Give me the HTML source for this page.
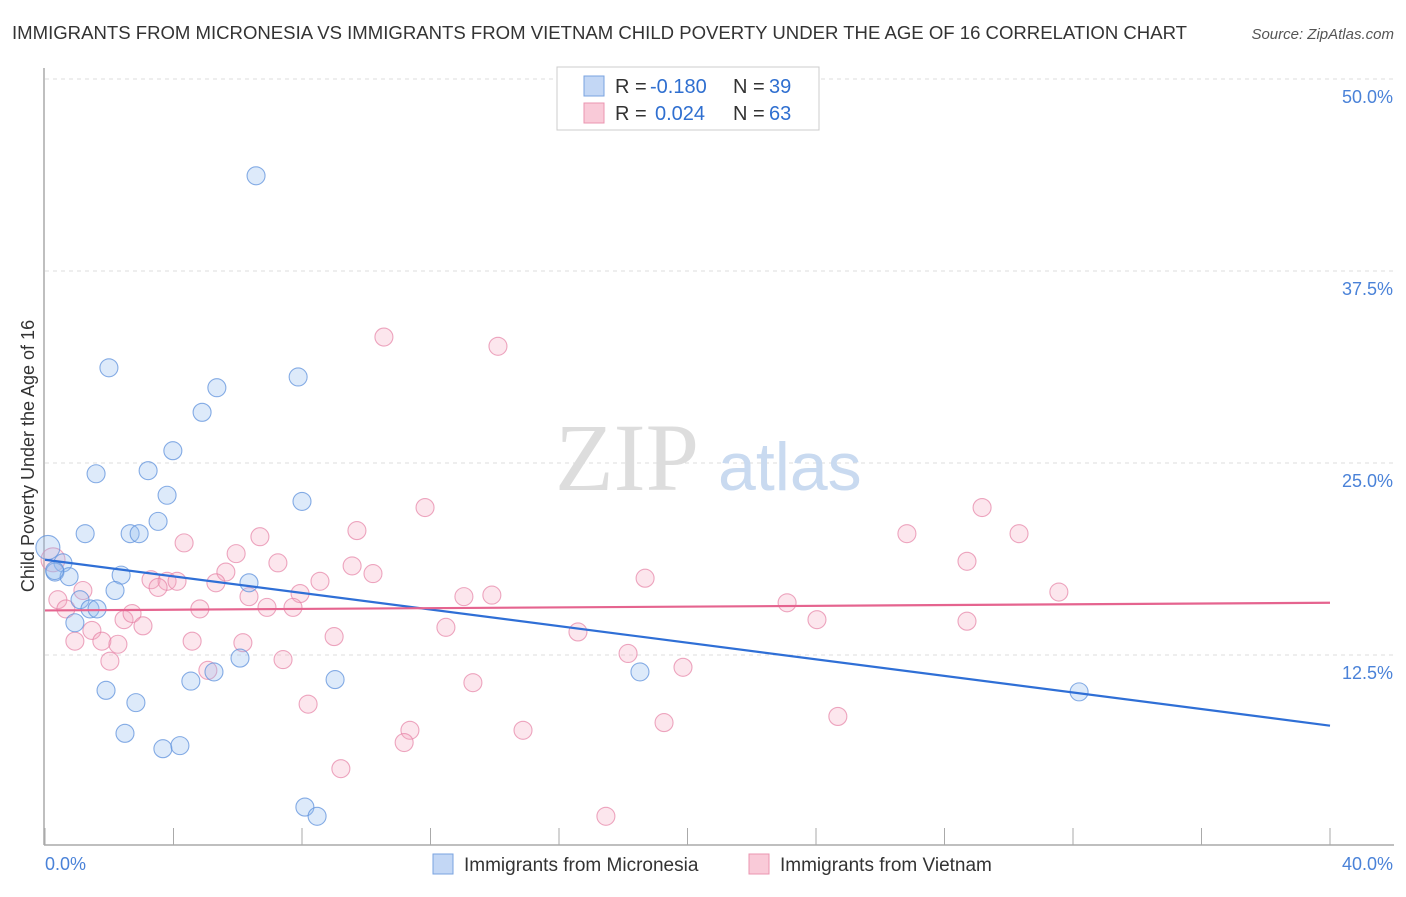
<!DOCTYPE html>
<html><head><meta charset="utf-8"><style>
body{margin:0;background:#fff;font-family:"Liberation Sans",sans-serif}
svg text{font-family:"Liberation Sans",sans-serif}
</style></head><body>
<svg id="c" width="1406" height="892">
<text x="12" y="39" font-size="18" fill="#333" textLength="1175" lengthAdjust="spacingAndGlyphs">IMMIGRANTS FROM MICRONESIA VS IMMIGRANTS FROM VIETNAM CHILD POVERTY UNDER THE AGE OF 16 CORRELATION CHART</text>
<text x="1394" y="39" font-size="15" fill="#555" font-style="italic" text-anchor="end">Source: ZipAtlas.com</text>
<text x="0" y="0" transform="translate(34,456) rotate(-90)" font-size="18" fill="#333" text-anchor="middle">Child Poverty Under the Age of 16</text>
<g id="grid"></g>
<text x="555" y="490" font-size="96" fill="#ddd" style="font-family:'Liberation Serif',serif">ZIP</text>
<text x="718" y="490" font-size="68" fill="#c9daf0">atlas</text>
<g id="pts"></g>
<g id="lines"></g>
<g>
<rect x="557" y="67" width="262" height="63" fill="#fff" stroke="#ccc"/>
<rect x="584" y="76" width="20" height="20" fill="#c3d7f5" stroke="#7aa3e0"/>
<rect x="584" y="103" width="20" height="20" fill="#f9cad8" stroke="#eb95b0"/>
<text x="615" y="93" font-size="20" fill="#333">R =</text>
<text x="650" y="93" font-size="20" fill="#2f6fd0">-0.180</text>
<text x="733" y="93" font-size="20" fill="#333">N =</text>
<text x="769" y="93" font-size="20" fill="#2f6fd0">39</text>
<text x="615" y="120" font-size="20" fill="#333">R =</text>
<text x="655" y="120" font-size="20" fill="#2f6fd0">0.024</text>
<text x="733" y="120" font-size="20" fill="#333">N =</text>
<text x="769" y="120" font-size="20" fill="#2f6fd0">63</text>
</g>
<g>
<rect x="433" y="854" width="20" height="20" fill="#c3d7f5" stroke="#7aa3e0"/>
<text x="464" y="871" font-size="19" fill="#333">Immigrants from Micronesia</text>
<rect x="749" y="854" width="20" height="20" fill="#f9cad8" stroke="#eb95b0"/>
<text x="780" y="871" font-size="19" fill="#333">Immigrants from Vietnam</text>
</g>
</svg>
<script>
const blueX=[6.57,1.99,5.35,7.88,4.89,3.98,1.59,3.21,3.80,8.00,3.52,1.25,2.65,2.93,0.09,0.56,0.31,0.75,2.37,6.35,2.18,1.09,1.40,1.62,0.93,6.07,5.26,4.54,9.03,18.52,32.19,1.90,2.83,2.49,3.67,4.20,8.09,8.47,0.3];
const blueY=[43.7,31.2,29.9,30.6,28.3,25.8,24.3,24.5,22.9,22.5,21.2,20.4,20.4,20.4,19.5,18.5,17.9,17.6,17.7,17.2,16.7,16.1,15.5,15.5,14.6,12.3,11.4,10.8,10.9,11.4,10.1,10.2,9.4,7.4,6.4,6.6,2.6,2.0,18.0];
const pinkX=[10.55,14.10,11.83,29.17,9.71,30.32,26.83,6.69,4.33,5.95,28.70,0.25,7.25,9.56,10.21,18.68,5.63,3.30,3.80,4.11,1.18,5.32,3.52,6.35,7.94,8.56,13.04,13.91,31.56,0.40,0.65,4.82,6.91,7.72,23.10,2.46,2.71,24.03,28.70,3.05,12.48,16.59,1.46,1.77,0.93,2.27,4.58,6.16,9.00,18.15,2.02,7.41,19.86,5.07,13.32,8.19,24.68,19.27,11.36,14.88,11.18,9.21,17.46];
const pinkY=[33.2,32.6,22.1,22.1,20.6,20.4,20.4,20.2,19.8,19.1,18.6,18.7,18.5,18.3,17.8,17.5,17.9,17.4,17.3,17.3,16.7,17.2,16.9,16.3,16.5,17.3,16.3,16.4,16.6,16.1,15.5,15.5,15.6,15.6,15.9,14.8,15.2,14.8,14.7,14.4,14.3,14.0,14.1,13.4,13.4,13.2,13.4,13.3,13.7,12.6,12.1,12.2,11.7,11.5,10.7,9.3,8.5,8.1,7.6,7.6,6.8,5.1,2.0];
const blueTrend=[18.7,7.9];
const pinkTrend=[15.4,15.9];
const yTicks=[12.5,25,37.5,50];
const xTickLabels=["0.0%","40.0%"];
const sx=v=>45+v/40*1285, sy=v=>847-v/50*768;
const NS="http://www.w3.org/2000/svg";
function mk(tag,attrs,parent){const e=document.createElementNS(NS,tag);for(const k in attrs)e.setAttribute(k,attrs[k]);parent.appendChild(e);return e;}
const grid=document.getElementById('grid');
yTicks.forEach(t=>{
 const l=mk('line',{x1:45,x2:1394,y1:sy(t),y2:sy(t),stroke:'#ddd','stroke-dasharray':'4,4'},grid);
 
 
 const tx=mk('text',{x:1393,y:sy(t)+24,'font-size':18,fill:'#4a82d8','text-anchor':'end'},grid);
 tx.textContent=t.toFixed(1)+'%';
 
 
});
let ax=mk('line',{x1:44,x2:44,y1:68,y2:845,stroke:'#aaa','stroke-width':1.5},grid);


ax=mk('line',{x1:44,x2:1394,y1:845,y2:845,stroke:'#aaa','stroke-width':1.5},grid);


for(let i=0;i<=10;i++){const t=mk('line',{x1:sx(i*4),x2:sx(i*4),y1:828,y2:845,stroke:'#aaa'},grid);
 
 }
[[0,'start',45],[40,'end',1393]].forEach((d,i)=>{const t=mk('text',{x:d[2],y:870,'font-size':18,fill:'#4a82d8','text-anchor':d[1]},grid);t.textContent=xTickLabels[i];
 
 });
const pts=document.getElementById('pts');
pinkX.forEach((x,i)=>{const c=mk('circle',{cx:sx(x),cy:sy(pinkY[i]),r:i==11?12:9,fill:'rgba(245,165,192,0.28)',stroke:'rgba(230,130,165,0.7)','stroke-width':1.1},pts);
 
 });
blueX.forEach((x,i)=>{const c=mk('circle',{cx:sx(x),cy:sy(blueY[i]),r:i==14?12:9,fill:'rgba(150,190,240,0.32)',stroke:'rgba(95,145,220,0.75)','stroke-width':1.1},pts);
 
 });
const lines=document.getElementById('lines');
let l=mk('line',{x1:sx(0),x2:sx(40),y1:sy(blueTrend[0]),y2:sy(blueTrend[1]),stroke:'#2f6fd6','stroke-width':2.2},lines);


l=mk('line',{x1:sx(0),x2:sx(40),y1:sy(pinkTrend[0]),y2:sy(pinkTrend[1]),stroke:'#e5648f','stroke-width':2.2},lines);


</script>
</body></html>
